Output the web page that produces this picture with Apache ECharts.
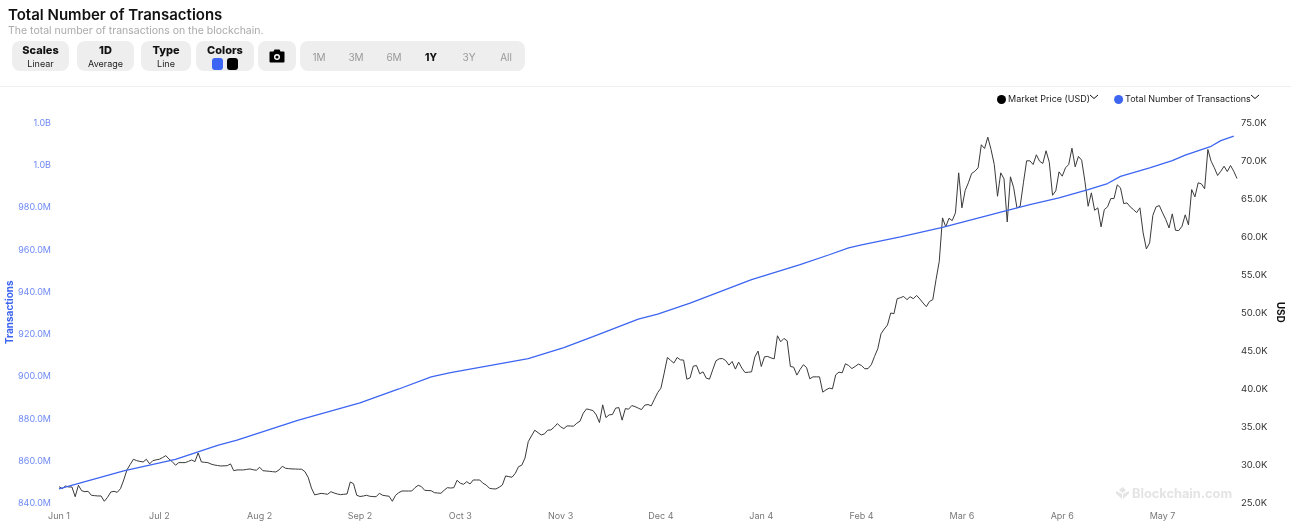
<!DOCTYPE html>
<html>
<head>
<meta charset="utf-8">
<script src="https://cdn.jsdelivr.net/npm/echarts@6/dist/echarts.min.js"></script>
<style>
html,body{margin:0;padding:0;background:#fff;font-family:Inter,"Noto Sans",sans-serif;}
#wrap{position:relative;width:1291px;height:524px;overflow:hidden;}
#chart{position:absolute;left:0;top:0;width:1291px;height:524px;}
.abs{position:absolute;}
.title{left:8px;top:5px;font-size:15px;font-weight:600;color:#111;white-space:nowrap;}
.sub{left:8px;top:24px;font-size:10.5px;color:#aaa;white-space:nowrap;}
.btn{top:41px;height:30px;background:#eee;border-radius:8px;text-align:center;box-sizing:border-box;}
.btn b{display:block;font-size:11px;font-weight:800;color:#111;margin-top:3px;line-height:13px;}
.btn span{display:block;font-size:9px;color:#222;line-height:13px;}
.sw{display:inline-block;width:11px;height:12px;border-radius:3px;margin:0 2px;}
.rng{top:51px;font-size:10px;line-height:12px;color:#999;width:30px;text-align:center;}
.sep{left:0;top:86px;width:1291px;height:1px;background:#eee;}
.wm{left:1116px;top:486px;font-size:12.8px;font-weight:700;color:#e4e4e4;white-space:nowrap;}
</style>
</head>
<body>
<div id="wrap">
<div id="chart"></div>
<div class="abs title">Total Number of Transactions</div>
<div class="abs sub">The total number of transactions on the blockchain.</div>
<div class="abs btn" style="left:12px;width:57px"><b>Scales</b><span>Linear</span></div>
<div class="abs btn" style="left:77px;width:57px"><b>1D</b><span>Average</span></div>
<div class="abs btn" style="left:141px;width:50px"><b>Type</b><span>Line</span></div>
<div class="abs btn" style="left:196px;width:58px"><b>Colors</b><div style="line-height:0;margin-top:1px"><i class="sw" style="background:#3d65f5"></i><i class="sw" style="background:#000"></i></div></div>
<div class="abs btn" style="left:258px;width:38px">
<svg width="16" height="14" viewBox="0 0 16 14" style="margin-top:8px"><path fill="#000" d="M1.5 2.5H4.5L5.5 .5H10.5L11.5 2.5H14.5A1 1 0 0 1 15.5 3.5V12.5A1 1 0 0 1 14.5 13.5H1.5A1 1 0 0 1 .5 12.5V3.5A1 1 0 0 1 1.5 2.5Z"/><circle cx="8" cy="8" r="3" fill="#fff"/><circle cx="8" cy="8" r="1.6" fill="#000"/></svg>
</div>
<div class="abs btn" style="left:300px;width:225px"></div>
<div class="abs rng" style="left:304px">1M</div>
<div class="abs rng" style="left:341px">3M</div>
<div class="abs rng" style="left:379px">6M</div>
<div class="abs rng" style="left:416px;color:#111;font-weight:800">1Y</div>
<div class="abs rng" style="left:454px">3Y</div>
<div class="abs rng" style="left:491px">All</div>
<div class="abs sep"></div>
<svg class="abs" style="left:1089px;top:94px" width="10" height="6"><path d="M1 1L5 4.5L9 1" fill="none" stroke="#111" stroke-width="1"/></svg>
<svg class="abs" style="left:1250px;top:94px" width="10" height="6"><path d="M1 1L5 4.5L9 1" fill="none" stroke="#111" stroke-width="1"/></svg>
<div class="abs wm"><svg width="13" height="12" viewBox="0 0 13 12" style="vertical-align:-1px;margin-right:3px"><path fill="#e4e4e4" d="M6.5 0L10 3L6.5 6L3 3ZM0 4L6 7V12L0 6.5ZM13 4L7 7V12L13 6.5Z"/></svg>Blockchain.com</div>
</div>
<script>
const tickLabels = ['Jun 1','Jul 2','Aug 2','Sep 2','Oct 3','Nov 3','Dec 4','Jan 4','Feb 4','Mar 6','Apr 6','May 7'];
const marketPriceUsd = [
27080,26820,27170,27040,27040,25760,27260,26550,26420,26470,
25950,25900,25860,25860,25160,25680,26380,26470,26340,26820,
27960,29280,30000,30680,30500,30400,30330,30680,30070,30500,
30600,30680,30900,31160,30700,30370,29900,30240,30240,30240,
30400,30590,30370,31510,30330,30280,30240,30050,29930,29860,
29800,29820,29840,30070,29180,29280,29280,29280,29350,29410,
29300,29240,29630,29180,29140,29100,29050,29010,29280,29760,
29500,29450,29410,29400,29380,29370,29050,28300,26900,26000,
26100,26200,26150,26080,26420,26250,26120,26030,26080,26120,
27700,27470,25950,25790,25850,25950,25820,25780,25760,26210,
25950,25880,25820,25160,25950,26300,26510,26510,26510,26510,
26950,27260,27080,26600,26570,26550,26290,26250,26210,26600,
26950,26900,26950,27920,27530,27390,27740,27430,27960,27960,
27960,27530,27300,26870,26800,26780,27000,27300,28490,28400,
28320,28840,29710,29900,30860,33000,33750,34500,34180,33880,
34010,34500,34540,34900,35370,34940,34710,35070,35050,35030,
35420,35690,36740,37300,37200,37080,36520,35500,37830,36160,
36520,36560,37400,37470,35820,37340,37260,37740,37600,37400,
37210,37790,37870,37700,38580,39450,40030,42000,44060,43670,
43320,44060,43750,43710,41210,41380,42920,43000,41910,42170,
41340,41210,42440,43620,43880,43920,43660,43050,43530,42530,
43450,42660,42080,42120,42170,44110,44900,42870,44150,44190,
44000,43880,46910,46120,46560,46250,42870,42790,41740,42480,
43100,42740,41250,41510,41510,41510,39500,39800,40030,39940,
41780,42130,42040,43230,43000,42600,42870,43190,43000,42570,
42600,43100,44190,45200,47170,47790,48320,49900,49810,51780,
51910,52080,51650,52040,51780,52210,51740,51210,50730,51430,
51650,54280,56690,62400,61220,62350,62040,63060,68320,63720,
65990,67010,68230,68530,68980,72010,71520,73010,71390,69410,
65240,68320,67530,61870,67800,66350,63720,63930,67010,69900,
69900,69410,70690,69850,69550,71220,69720,65370,65950,68450,
67880,68980,69410,71560,69110,70470,69980,67220,63930,65690,
63400,63720,61220,63490,63850,64940,64940,66740,66350,64280,
64370,63850,63490,63100,63720,60420,58320,59110,62740,63850,
64020,63060,62180,61080,62930,60770,60730,61300,62800,61480,
66120,65160,67010,66870,66220,71390,69850,68980,67970,68530,
69190,68490,69280,68530,67570
];
const txDayIndex = [0,20,36,49,55,74,93,105,115,121,145,156,165,179,185,195,214,229,238,244,248,260,273,291,300,309,318,324,328,337,344,348,356,359,363];
const txMillions = [846.4,855.0,860.4,867.0,869.5,879.0,887.1,893.7,899.4,901.4,908.1,913.3,918.5,926.7,929.1,934.3,945.4,952.5,957.2,960.4,961.9,965.7,970.1,977.4,980.9,984.1,988.0,990.9,994.3,998.3,1001.7,1004.3,1008.5,1011.2,1013.3];

const BLUE = '#3d65f0';
const FONT = 'Inter, "Noto Sans", sans-serif';
const days = marketPriceUsd.map((_, i) => String(i));
const chart = echarts.init(document.getElementById('chart'), null, {renderer:'canvas'});
chart.setOption({
  animation: false,
  textStyle: {fontFamily: FONT},
  legend: {
    top: 90, left: 992, itemWidth: 9, itemHeight: 9, itemGap: 24, icon: 'circle',
    textStyle: {fontSize: 9, color: '#222', fontFamily: FONT, padding: [0,0,0,-3]},
    data: ['Market Price (USD)', 'Total Number of Transactions']
  },
  grid: {left: 59, right: 54, top: 122, bottom: 21.5, outerBoundsMode: 'none'},
  xAxis: {
    type: 'category', data: days, boundaryGap: false,
    axisLine: {show: false}, axisTick: {show: false}, splitLine: {show: false},
    axisLabel: {
      interval: 30, color: '#777', fontSize: 9, margin: 9, fontFamily: FONT,
      formatter: (v, i) => tickLabels[i / 31] || ''
    }
  },
  yAxis: [
    {
      type: 'value', min: 840, max: 1020, interval: 20, position: 'left',
      name: 'Transactions', nameLocation: 'middle', nameGap: 44, nameRotate: 90, nameMoveOverlap: false,
      nameTextStyle: {color: BLUE, fontSize: 10, fontWeight: 700, fontFamily: FONT},
      axisLine: {show: false}, axisTick: {show: false}, splitLine: {show: false},
      axisLabel: {
        margin: 8,
        formatter: v => '{a|' + (v >= 1000 ? (v / 1000).toFixed(1) + 'B' : v.toFixed(1) + 'M') + '}',
        rich: {a: {color: '#6f8af5', fontSize: 9, fontFamily: FONT, padding: [2,0,0,0]}}
      }
    },
    {
      type: 'value', min: 25000, max: 75000, interval: 5000, position: 'right',
      name: 'USD', nameLocation: 'middle', nameGap: 38, nameRotate: -90, nameMoveOverlap: false,
      nameTextStyle: {color: '#111', fontSize: 10, fontWeight: 700, fontFamily: FONT},
      axisLine: {show: false}, axisTick: {show: false}, splitLine: {show: false},
      axisLabel: {
        margin: 4,
        formatter: v => '{a|' + (v / 1000).toFixed(1) + 'K}',
        rich: {a: {color: '#333', fontSize: 9.5, fontFamily: FONT, padding: [2,0,0,0]}}
      }
    }
  ],
  series: [
    {
      name: 'Market Price (USD)', type: 'line', yAxisIndex: 1, data: marketPriceUsd,
      showSymbol: false, lineStyle: {color: '#3a3a3a', width: 1}, itemStyle: {color: '#000'}
    },
    {
      name: 'Total Number of Transactions', type: 'line', yAxisIndex: 0,
      data: txDayIndex.map((d, i) => [String(d), txMillions[i]]),
      showSymbol: false, lineStyle: {color: BLUE, width: 1.3}, itemStyle: {color: BLUE}
    }
  ]
});
</script>
</body>
</html>
